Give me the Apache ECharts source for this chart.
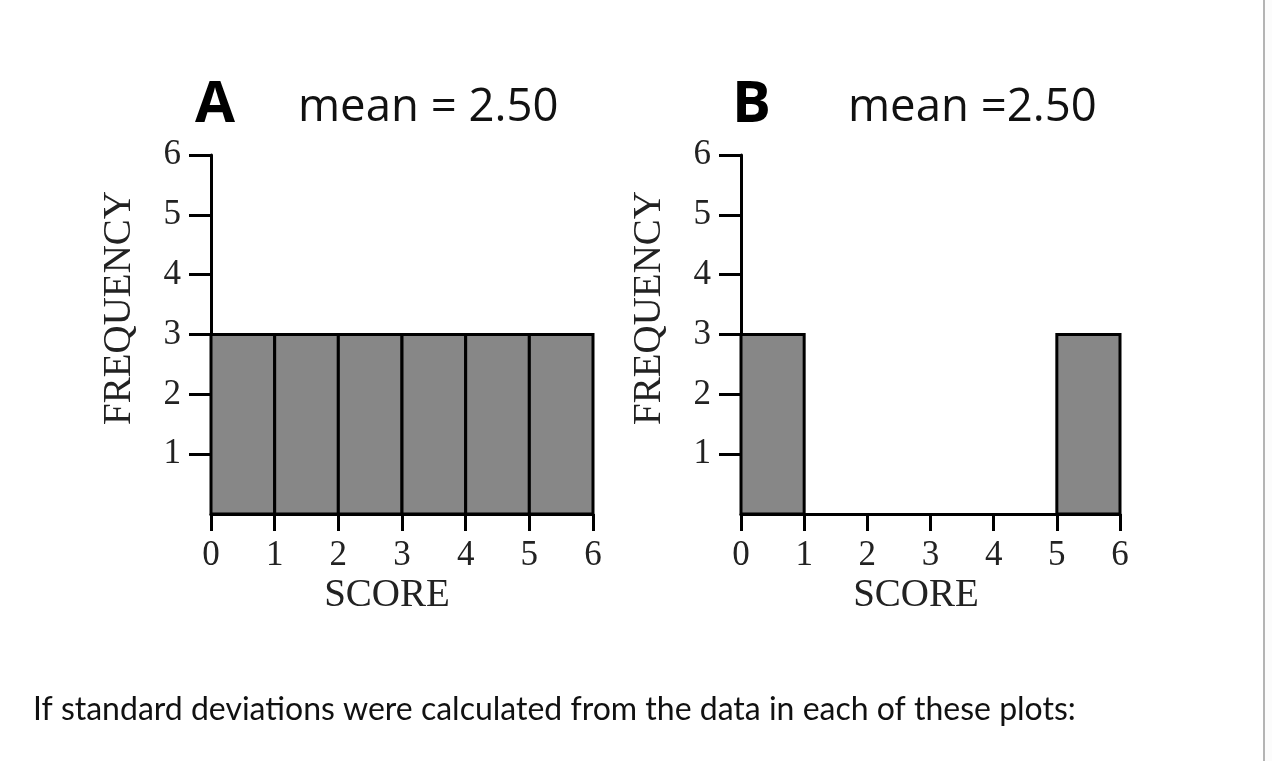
<!DOCTYPE html>
<html>
<head>
<meta charset="utf-8">
<title>Histograms A and B</title>
<script src="https://cdn.jsdelivr.net/npm/echarts@6/dist/echarts.min.js"></script>
<style>
    html, body { margin: 0; padding: 0; background: #fff; }
    #main { width: 1272px; height: 761px; }
</style>
</head>
<body>
<div id="main"></div>
<script>
    // bins (score intervals) and frequencies
    var binStart = [0, 1, 2, 3, 4, 5];
    var binEnd = [1, 2, 3, 4, 5, 6];
    var freqA = [3, 3, 3, 3, 3, 3];
    var freqB = [3, 0, 0, 0, 0, 3];
    var scoreTicks = [0, 1, 2, 3, 4, 5, 6];
    var freqTicks = [1, 2, 3, 4, 5, 6];
    var panelLetters = ['A', 'B'];
    var panelMeans = ['mean = 2.50', 'mean =2.50'];

    var serif = 'Liberation Serif';

    function toRows(freq) {
        var rows = [];
        for (var i = 0; i < binStart.length; i++) {
            rows.push([binStart[i], binEnd[i], freq[i]]);
        }
        return rows;
    }

    function renderBin(params, api) {
        var f = api.value(2);
        if (!f) return null;
        var p0 = api.coord([api.value(0), 0]);
        var p1 = api.coord([api.value(1), f]);
        return {
            type: 'rect',
            shape: { x: p0[0], y: p1[1], width: p1[0] - p0[0], height: p0[1] - p1[1] },
            style: { fill: '#878787', stroke: '#000', lineWidth: 3 }
        };
    }

    function xAxisOf(idx) {
        return {
            type: 'value', gridIndex: idx, min: 0, max: 6, interval: 1,
            axisLine: { lineStyle: { color: '#000', width: 3 } },
            axisTick: { length: 17, lineStyle: { color: '#000', width: 3 } },
            axisLabel: { customValues: scoreTicks, margin: 24, color: '#222', fontFamily: serif, fontSize: 35 },
            splitLine: { show: false }
        };
    }

    function yAxisOf(idx) {
        return {
            type: 'value', gridIndex: idx, min: 0, max: 6, interval: 1,
            axisLine: { show: true, lineStyle: { color: '#000', width: 3 } },
            axisTick: { show: true, customValues: freqTicks, length: 22, lineStyle: { color: '#000', width: 3 } },
            axisLabel: { customValues: freqTicks, margin: 30, color: '#222', fontFamily: serif, fontSize: 35 },
            splitLine: { show: false }
        };
    }

    var chart = echarts.init(document.getElementById('main'));

    var option = {
        animation: false,
        backgroundColor: '#fff',
        grid: [
            { left: 211, top: 155, width: 382, height: 359 },
            { left: 741, top: 155, width: 379, height: 359 }
        ],
        xAxis: [xAxisOf(0), xAxisOf(1)],
        yAxis: [yAxisOf(0), yAxisOf(1)],
        series: [
            { type: 'custom', xAxisIndex: 0, yAxisIndex: 0, renderItem: renderBin, data: toRows(freqA), encode: { x: [0, 1], y: 2 } },
            { type: 'custom', xAxisIndex: 1, yAxisIndex: 1, renderItem: renderBin, data: toRows(freqB), encode: { x: [0, 1], y: 2 } }
        ],
        graphic: [
            { type: 'text', x: 195, y: 105, style: { text: panelLetters[0], fontFamily: 'Open Sans', fontWeight: 'bold', fontSize: 58, fill: '#000', verticalAlign: 'middle' } },
            { type: 'text', x: 298, y: 108, style: { text: panelMeans[0], fontFamily: 'Open Sans', fontSize: 45.5, fill: '#111', verticalAlign: 'middle' } },
            { type: 'text', x: 732, y: 105, style: { text: panelLetters[1], fontFamily: 'Open Sans', fontWeight: 'bold', fontSize: 58, fill: '#000', verticalAlign: 'middle' } },
            { type: 'text', x: 848, y: 108, style: { text: panelMeans[1], fontFamily: 'Open Sans', fontSize: 45.5, fill: '#111', verticalAlign: 'middle' } },
            { type: 'text', x: 120, y: 308, rotation: Math.PI / 2, style: { text: 'FREQUENCY', fontFamily: serif, fontSize: 39, fill: '#222', align: 'center', verticalAlign: 'middle' } },
            { type: 'text', x: 650, y: 308, rotation: Math.PI / 2, style: { text: 'FREQUENCY', fontFamily: serif, fontSize: 39, fill: '#222', align: 'center', verticalAlign: 'middle' } },
            { type: 'text', x: 387, y: 596, style: { text: 'SCORE', fontFamily: serif, fontSize: 39, fill: '#222', align: 'center', verticalAlign: 'middle' } },
            { type: 'text', x: 916, y: 596, style: { text: 'SCORE', fontFamily: serif, fontSize: 39, fill: '#222', align: 'center', verticalAlign: 'middle' } },
            { type: 'text', x: 33, y: 710, style: { text: 'If standard deviations were calculated from the data in each of these plots:', fontFamily: 'Lato', fontSize: 32, fill: '#111', verticalAlign: 'middle' } },
            { type: 'rect', shape: { x: 1263, y: 0, width: 2, height: 761 }, style: { fill: '#b4b4b4' } },
            { type: 'rect', shape: { x: 1265, y: 0, width: 7, height: 761 }, style: { fill: '#fcfcfc' } }
        ]
    };

    chart.setOption(option);
</script>
</body>
</html>
